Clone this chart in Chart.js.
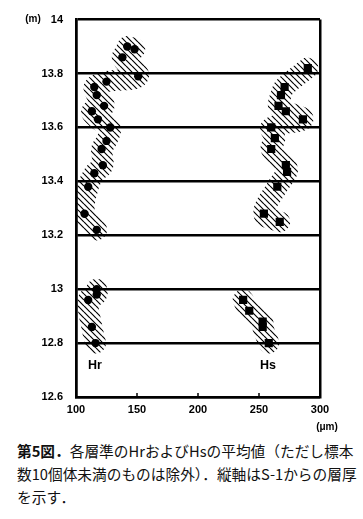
<!DOCTYPE html>
<html>
<head>
<meta charset="utf-8">
<script src="https://cdn.jsdelivr.net/npm/chart.js@4.4.1/dist/chart.umd.min.js"></script>
<style>
  body { margin: 0; background: #fff; width: 363px; height: 519px; position: relative; overflow: hidden; }
  #wrap { position: absolute; left: 0; top: 0; width: 363px; height: 432px; }
  #cap { position: absolute; left: 17px; top: 439px; width: 345px; font-family: "Noto Sans CJK JP"; font-size: 14.7px; line-height: 23px; color: #111; white-space: nowrap; }
</style>
</head>
<body>
<div id="wrap"><canvas id="fig5"></canvas></div>
<div id="cap"><b>第5図．</b>各層準のHrおよびHsの平均値（ただし標本<br>数10個体未満のものは除外）．縦軸はS-1からの層厚<br>を示す．</div>
<script>
// Hr (μm) by level (m); null = no data between blocks
const hrSize = [142, 148, 138, 151, 125, 115, 117, 123, 113, 118, 128, 125, 121, 122, 115, 110, 107, 117, null, 117, 117, 110, 113, 116];
const hrLevel = [13.90, 13.89, 13.86, 13.79, 13.77, 13.75, 13.72, 13.68, 13.66, 13.63, 13.60, 13.55, 13.52, 13.46, 13.43, 13.38, 13.28, 13.22, null, 13.00, 12.98, 12.96, 12.86, 12.80];

// Hs (μm) by level (m)
const hsSize = [290, 271, 268, 266, 272, 286, 260, 263, 260, 272, 273, 265, 254, 267, null, 237, 242, 253, 253, 258];
const hsLevel = [13.82, 13.75, 13.72, 13.68, 13.66, 13.63, 13.60, 13.56, 13.52, 13.46, 13.435, 13.38, 13.28, 13.25, null, 12.96, 12.92, 12.88, 12.86, 12.80];

const seriesNames = ["Hr", "Hs"];
const nameSize = [115.6, 257.4];
const nameLevel = 12.715;

const xMin = 100, xMax = 300, xStep = 50;
const yMin = 12.6, yMax = 14, yStep = 0.2;

function toPoints(xs, ys) {
  return xs.map((v, i) => (v === null ? { x: null, y: null } : { x: v, y: ys[i] }));
}

// diagonal hatch "\\\\"
function hatchPattern() {
  const s = 6;
  const c = document.createElement("canvas");
  c.width = s; c.height = s;
  const g = c.getContext("2d");
  g.strokeStyle = "#000";
  g.lineWidth = 1.2;
  g.beginPath();
  for (let k = -1; k <= 1; k++) {
    g.moveTo(0, k * s);
    g.lineTo(s, s + k * s);
  }
  g.stroke();
  return g.createPattern(c, "repeat");
}
const hatch = hatchPattern();

const textPlugin = {
  id: "texts",
  afterDraw(chart) {
    const { ctx, chartArea } = chart;
    const x = chart.scales.x, y = chart.scales.y;
    ctx.save();
    ctx.fillStyle = "#000";
    ctx.textAlign = "center";
    ctx.textBaseline = "middle";
    ctx.font = 'bold 12.5px "Liberation Sans"';
    seriesNames.forEach((n, i) => {
      ctx.fillText(n, x.getPixelForValue(nameSize[i]), y.getPixelForValue(nameLevel));
    });
    ctx.font = 'bold 10px "Liberation Sans"';
    ctx.fillText("(m)", 33, y.getPixelForValue(yMax));
    ctx.fillText("(μm)", x.getPixelForValue(xMax) + 7, chartArea.bottom + 30);
    // short inward ticks on the bottom axis
    ctx.strokeStyle = "#000";
    ctx.lineWidth = 1.5;
    for (let v = xMin + xStep; v < xMax; v += xStep) {
      const px = x.getPixelForValue(v);
      ctx.beginPath();
      ctx.moveTo(px, chartArea.bottom);
      ctx.lineTo(px, chartArea.bottom - 4);
      ctx.stroke();
    }
    ctx.restore();
  },
};

const tickFont = { family: "Liberation Sans", size: 11, weight: "bold" };

new Chart(document.getElementById("fig5"), {
  type: "scatter",
  data: {
    datasets: [
      {
        // band Hr
        type: "line",
        data: toPoints(hrSize, hrLevel),
        borderColor: hatch,
        borderWidth: 21,
        borderCapStyle: "round",
        tension: 0.4,
        pointRadius: 0,
        spanGaps: false,
        fill: false,
      },
      {
        // band Hs
        type: "line",
        data: toPoints(hsSize, hsLevel),
        borderColor: hatch,
        borderWidth: 21,
        borderCapStyle: "round",
        tension: 0.4,
        pointRadius: 0,
        spanGaps: false,
        fill: false,
      },
      {
        data: toPoints(hrSize, hrLevel),
        pointStyle: "circle",
        pointRadius: 4.2,
        backgroundColor: "#000",
        borderColor: "#000",
        borderWidth: 0,
      },
      {
        data: toPoints(hsSize, hsLevel),
        pointStyle: "rect",
        pointRadius: 5.8,
        backgroundColor: "#000",
        borderColor: "#000",
        borderWidth: 0,
      },
    ],
  },
  options: {
    responsive: true,
    maintainAspectRatio: false,
    animation: false,
    layout: { padding: { top: 13, right: 43, left: 0, bottom: 0 } },
    plugins: { legend: { display: false }, tooltip: { enabled: false } },
    scales: {
      x: {
        type: "linear",
        min: xMin,
        max: xMax,
        ticks: { stepSize: xStep, color: "#000", font: tickFont, padding: 6 },
        grid: {
          color: (c) => (c.tick && (c.tick.value === xMin || c.tick.value === xMax) ? "#000" : "rgba(0,0,0,0)"),
          lineWidth: 2.5,
          drawTicks: false,
        },
        border: { display: true, color: "#000", width: 2.5 },
        afterFit(scale) { scale.height = 35; },
      },
      y: {
        type: "linear",
        min: yMin,
        max: yMax,
        ticks: {
          stepSize: yStep,
          color: "#000",
          font: tickFont,
          padding: 13,
          callback: (v) => String(Math.round(v * 10) / 10),
        },
        grid: { color: "#000", lineWidth: 2.5, drawTicks: false },
        border: { display: true, color: "#000", width: 2.5 },
        afterFit(scale) { scale.width = 76; },
      },
    },
  },
  plugins: [textPlugin],
});
</script>
</body>
</html>
